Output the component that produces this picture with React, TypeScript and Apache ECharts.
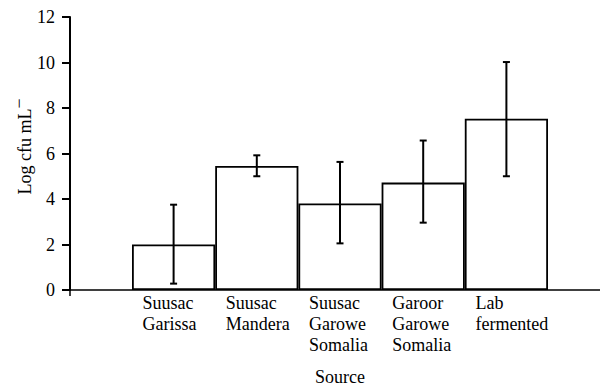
import React, { useEffect, useRef } from "react";
import * as echarts from "echarts";

const categories = [
  "Suusac\nGarissa",
  "Suusac\nMandera",
  "Suusac\nGarowe\nSomalia",
  "Garoor\nGarowe\nSomalia",
  "Lab\nfermented",
];
const means = [2.0, 5.45, 3.8, 4.72, 7.53];
const errLow = [0.28, 5.0, 2.05, 2.96, 5.0];
const errHigh = [3.75, 5.92, 5.63, 6.57, 10.02];
const yTicks = { min: 0, max: 12, interval: 2 };
const xName = "Source";
const yName = "Log cfu mL";
const ySup = "−";

const FONT = "'Liberation Serif', 'Times New Roman', serif";

export default function App() {
  const ref = useRef<HTMLDivElement>(null);
  useEffect(() => {
    if (!ref.current) return;
    const chart = echarts.init(ref.current, null, { renderer: "svg" });
    const errData = categories.map((_, i) => [i, errLow[i], errHigh[i]]);
    chart.setOption({
      animation: false,
      backgroundColor: "#fff",
      textStyle: { fontFamily: FONT, color: "#000" },
      grid: [
        { left: 70, right: -4, top: 17, bottom: 98, outerBoundsMode: "none", containLabel: false },
        { left: 132, right: 52, top: 17, bottom: 98, outerBoundsMode: "none", containLabel: false },
      ],
      xAxis: [
        {
          type: "value",
          gridIndex: 0,
          min: 0,
          max: 1,
          interval: 1,
          splitLine: { show: false },
          axisLine: { show: true, lineStyle: { color: "#000", width: 1.5 } },
          axisTick: { show: true, length: 6, lineStyle: { color: "#000", width: 1.5 } },
          axisLabel: { show: false },
        },
        {
          type: "category",
          gridIndex: 1,
          data: categories,
          axisLine: { show: false },
          axisTick: { show: false },
          axisLabel: {
            interval: 0,
            margin: 2,
            fontFamily: FONT,
            fontSize: 18,
            lineHeight: 21,
            color: "#000",
            formatter: (v: string) =>
              v
                .split("\n")
                .map((s) => "{l|" + s + "}")
                .join("\n"),
            rich: {
              l: {
                width: 62,
                align: "left",
                fontFamily: FONT,
                fontSize: 18,
                lineHeight: 21,
                color: "#000",
              },
            },
          },
          name: xName,
          nameLocation: "middle",
          nameGap: 78,
          nameMoveOverlap: false,
          nameTextStyle: { fontFamily: FONT, fontSize: 18, color: "#000" },
        },
      ],
      yAxis: [
        {
          type: "value",
          gridIndex: 0,
          min: yTicks.min,
          max: yTicks.max,
          interval: yTicks.interval,
          splitLine: { show: false },
          axisLine: { show: true, lineStyle: { color: "#000", width: 2 } },
          axisTick: { show: true, length: 8, lineStyle: { color: "#000", width: 2 } },
          axisLabel: {
            margin: 15,
            fontFamily: FONT,
            fontSize: 18,
            color: "#000",
          },
          name: "{a|" + yName + "}{s|" + ySup + "}",
          nameLocation: "middle",
          nameGap: 36,
          nameMoveOverlap: false,
          nameTextStyle: {
            fontFamily: FONT,
            fontSize: 18,
            color: "#000",
            padding: [0, 0, 0, 14],
            rich: {
              a: { fontFamily: FONT, fontSize: 18, color: "#000", lineHeight: 24, verticalAlign: "bottom" },
              s: { fontFamily: FONT, fontSize: 18, color: "#000", lineHeight: 24, verticalAlign: "top", padding: [0, 0, 10, 0] },
            },
          },
        },
        {
          type: "value",
          gridIndex: 1,
          min: yTicks.min,
          max: yTicks.max,
          interval: yTicks.interval,
          show: false,
          splitLine: { show: false },
        },
      ],
      series: [
        {
          type: "bar",
          xAxisIndex: 1,
          yAxisIndex: 1,
          data: means,
          barCategoryGap: "0%",
          itemStyle: { color: "#fff", borderColor: "#000", borderWidth: 1.8 },
          z: 2,
        },
        {
          type: "custom",
          xAxisIndex: 1,
          yAxisIndex: 1,
          data: errData,
          z: 3,
          renderItem: (params: any, api: any) => {
            const x = api.value(0);
            const hi = api.coord([x, api.value(2)]);
            const lo = api.coord([x, api.value(1)]);
            const hw = 3.5;
            const style = { stroke: "#000", lineWidth: 2 };
            return {
              type: "group",
              children: [
                { type: "line", shape: { x1: hi[0], y1: hi[1], x2: lo[0], y2: lo[1] }, style },
                { type: "line", shape: { x1: hi[0] - hw, y1: hi[1], x2: hi[0] + hw, y2: hi[1] }, style },
                { type: "line", shape: { x1: lo[0] - hw, y1: lo[1], x2: lo[0] + hw, y2: lo[1] }, style },
              ],
            };
          },
        },
      ],
    });
    return () => chart.dispose();
  }, []);
  return (
    <div
      ref={ref}
      style={{ position: "absolute", left: 0, top: 0, width: 600, height: 388 }}
    />
  );
}
